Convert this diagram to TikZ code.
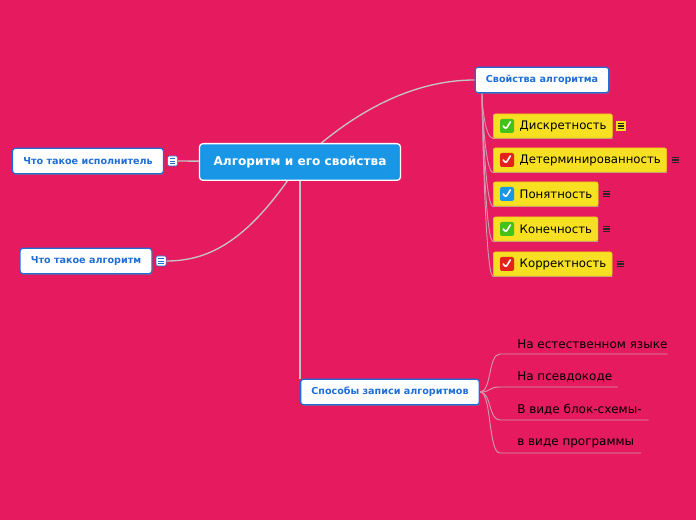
\documentclass[tikz,border=0pt]{standalone}
\usepackage{fontspec}
\setmainfont{DejaVu Sans}
\usetikzlibrary{positioning, calc, backgrounds, shadows}
\definecolor{mBg}{HTML}{E61A5E}
\definecolor{mBlue}{HTML}{1A96E6}
\definecolor{mLink}{HTML}{1F6ED6}
\definecolor{mYellow}{HTML}{F7DF22}
\definecolor{mYellowLine}{HTML}{F3C81A}
\definecolor{mLine}{HTML}{C4C4C4}
\definecolor{mLeaf}{HTML}{D29AB0}
\definecolor{okGreen}{HTML}{45C21A}
\definecolor{badRed}{HTML}{E3231B}
\colorlet{infoBlue}{mBlue}

\tikzset{
  topic/.style={draw=mLink, line width=0.9pt, fill=white, rounded corners=2pt,
    font=\fontsize{7.2}{8.5}\selectfont\bfseries, text=mLink, inner xsep=8pt,
    minimum height=19pt, drop shadow={shadow xshift=0.6pt, shadow yshift=-0.9pt, opacity=0.5}},
  central/.style={draw=white, line width=1pt, fill=mBlue, rounded corners=2.5pt,
    font=\fontsize{9.1}{11}\selectfont\bfseries, text=white, inner xsep=10.5pt,
    minimum height=27.5pt},
  prop/.style={draw=mYellowLine, line width=0.5pt, fill=mYellow, rounded corners=1.5pt,
    font=\fontsize{8.8}{11}\selectfont, anchor=west, inner xsep=4.3pt, minimum height=18pt,
    drop shadow={shadow xshift=0.5pt, shadow yshift=-0.6pt, opacity=0.35}},
  leaf/.style={font=\fontsize{9}{11}\selectfont, anchor=south west, inner xsep=0pt, inner ysep=3.5pt},
  chk/.style={fill=#1, rounded corners=1.5pt, minimum size=10.5pt, inner sep=0pt,
    path picture={\draw[white, line width=1.2pt, line cap=round, line join=round]
      ($(path picture bounding box.center)+(-2.8pt,0pt)$) -- ++(1.9pt,-2.4pt) -- ++(3.4pt,5.4pt);}},
  note/.style={draw=mLink, fill=white, rounded corners=1pt, minimum size=7.5pt, inner sep=0pt,
    path picture={\foreach \k in {-1.6,0,1.6}
      \draw[mLink, line width=0.6pt] ($(path picture bounding box.center)+(-2.1pt,\k pt)$) -- ++(4.2pt,0);}},
  pnote/.style={minimum size=8pt, inner sep=0pt,
    path picture={\foreach \k in {-1.7,0,1.7}
      \draw[black!85, line width=0.9pt] ($(path picture bounding box.center)+(-2.5pt,\k pt)$) -- ++(5pt,0);}},
  conn/.style={mLine, line width=1pt},
  sub/.style={mLeaf, line width=0.7pt}
}

\begin{document}
\begin{tikzpicture}[x=0.75pt, y=-0.75pt]
  \useasboundingbox (0,0) rectangle (696,520);

  % main topics
  \node[central] (c) at (300,162) {Алгоритм и его свойства};
  \node[topic] (sv) at (542,80) {Свойства алгоритма};
  \node[topic] (isp) at (88,161) {Что такое исполнитель};
  \node[topic] (alg) at (86,261) {Что такое алгоритм};
  \node[topic] (sp) at (390,392) {Способы записи алгоритмов};
  \node[note, right=2.5pt of isp] (isp-n) {};
  \node[note, right=2.5pt of alg] (alg-n) {};

  % properties
  \node[prop] (p1) at (493,126) {\hspace*{15.5pt}Дискретность};
  \node[prop] (p2) at (493,160) {\hspace*{15.5pt}Детерминированность};
  \node[prop] (p3) at (493,194) {\hspace*{15.5pt}Понятность};
  \node[prop] (p4) at (493,229) {\hspace*{15.5pt}Конечность};
  \node[prop] (p5) at (493,264) {\hspace*{15.5pt}Корректность};
  \node[chk=okGreen] (p1-c) at ([xshift=10.5pt]p1.west) {};
  \node[chk=badRed] (p2-c) at ([xshift=10.5pt]p2.west) {};
  \node[chk=infoBlue] (p3-c) at ([xshift=10.5pt]p3.west) {};
  \node[chk=okGreen] (p4-c) at ([xshift=10.5pt]p4.west) {};
  \node[chk=badRed] (p5-c) at ([xshift=10.5pt]p5.west) {};
  \node[pnote, fill=mYellow, right=2pt of p1] (p1-n) {};
  \foreach \i in {2,...,5}
    \node[pnote, right=2pt of p\i] (p\i-n) {};

  % ways of writing
  \node[leaf] (w1) at (500,354) {\hspace*{12.75pt}На естественном языке};
  \node[leaf] (w2) at (500,387) {\hspace*{12.75pt}На псевдокоде\hspace*{4pt}};
  \node[leaf] (w3) at (500,420) {\hspace*{12.75pt}В виде блок-схемы-\hspace*{5pt}};
  \node[leaf] (w4) at (500,453) {\hspace*{12.75pt}в виде программы\hspace*{5pt}};

  \begin{scope}[on background layer]
    \fill[mBg] (0,0) rectangle (696,520);
    \draw[conn] (c.center) .. controls (360,105) and (420,80) .. (sv.west);
    \draw[conn] (c.center) .. controls (250,240) and (210,261) .. (alg-n.east);
    \draw[conn] (c.center) -- (isp-n.east);
    \draw[conn] (c.center) -- (c.center |- sp.north);
    \foreach \i in {1,...,5}
      \draw[sub] ([xshift=5.5pt]sv.south west) .. controls +(0,10) and +(-8,0) .. (p\i.south west) -- (p\i.south east);
    \foreach \i in {1,...,4}
      \draw[sub] (sp.east) .. controls +(12,0) and +(-12,0) .. (w\i.south west) -- (w\i.south east);
  \end{scope}
\end{tikzpicture}
\end{document}
